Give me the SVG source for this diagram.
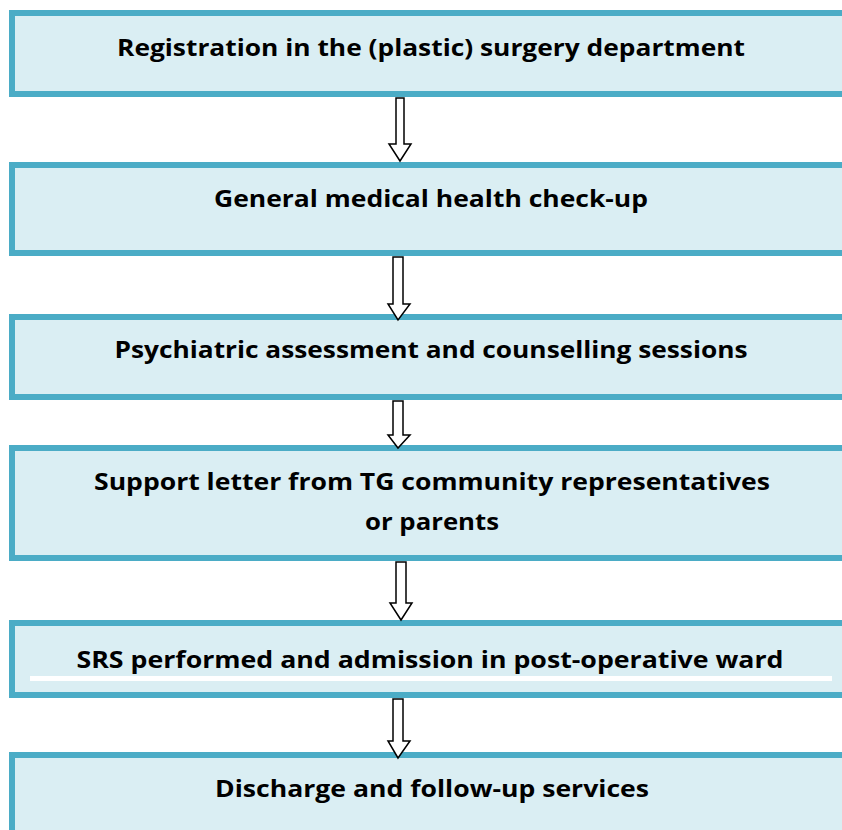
<svg xmlns="http://www.w3.org/2000/svg" width="842" height="830" viewBox="0 0 842 830">
<style>
.box{fill:#DAEEF3;stroke:#4BACC6;stroke-width:6}
.t{font-family:"Open Sans","Liberation Sans",sans-serif;font-weight:bold;font-size:24px;fill:#000;text-anchor:middle}
.arr{fill:#fff;stroke:#000;stroke-width:1.5;stroke-linejoin:miter}
</style>
<rect width="842" height="830" fill="#fff"/>
<g id="n1"><rect class="box" x="12" y="13" width="840" height="81"/><text class="t" x="431" y="56" textLength="628" lengthAdjust="spacingAndGlyphs">Registration in the (plastic) surgery department</text></g>
<g id="n2"><rect class="box" x="12" y="165" width="840" height="88"/><text class="t" x="431" y="207" textLength="434" lengthAdjust="spacingAndGlyphs">General medical health check-up</text></g>
<g id="n3"><rect class="box" x="12" y="317" width="840" height="80"/><text class="t" x="431" y="358" textLength="633" lengthAdjust="spacingAndGlyphs">Psychiatric assessment and counselling sessions</text></g>
<g id="n4"><rect class="box" x="12" y="448" width="840" height="110"/><text class="t" x="432" y="490" textLength="676" lengthAdjust="spacingAndGlyphs">Support letter from TG community representatives</text><text class="t" x="432" y="530" textLength="134" lengthAdjust="spacingAndGlyphs">or parents</text></g>
<g id="n5"><rect class="box" x="12" y="623" width="840" height="72"/><rect x="30" y="676" width="802" height="5" fill="#fff"/><text class="t" x="430" y="668" textLength="707" lengthAdjust="spacingAndGlyphs">SRS performed and admission in post-operative ward</text></g>
<g id="n6"><rect class="box" x="12" y="755" width="840" height="90"/><text class="t" x="432" y="797" textLength="434" lengthAdjust="spacingAndGlyphs">Discharge and follow-up services</text></g>
<g id="connectors">
<path class="arr" d="M396,98 H404 V144 H411 L400,161 L389,144 H396 Z"/>
<path class="arr" d="M393,257 H403 V304 H410 L398,320 L388,304 H393 Z"/>
<path class="arr" d="M393,401 H403 V435 H410 L398,448 L388,435 H393 Z"/>
<path class="arr" d="M396,562 H406 V603 H412 L401,620 L390,603 H396 Z"/>
<path class="arr" d="M393,699 H403 V741 H410 L398,758 L388,741 H393 Z"/>
</g>
</svg>
